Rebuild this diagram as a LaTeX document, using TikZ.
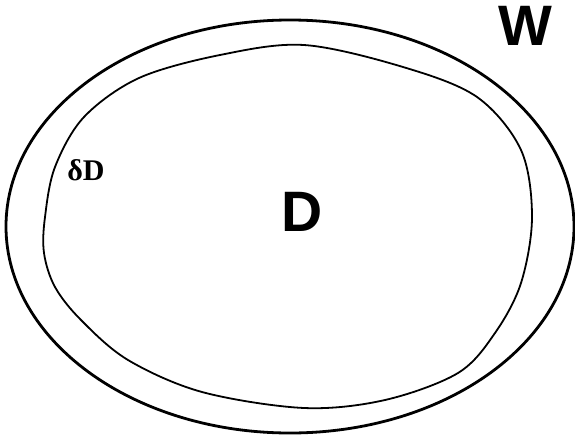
\documentclass[tikz,border=0pt]{standalone}
\usepackage{fontspec}
\setmainfont{Liberation Serif}
\newfontfamily\labelsans{Liberation Sans}
\usetikzlibrary{positioning}

\begin{document}
\begin{tikzpicture}[x=1pt, y=-1pt,
    region/.style={line width=2.8pt},
    domainline/.style={line width=1.8pt},
    biglabel/.style={font=\labelsans\bfseries\fontsize{57}{60}\selectfont, inner sep=0pt}]
  \useasboundingbox (0,0) rectangle (575,439);
  % outer world W
  \draw[region] (290,226.5) ellipse[x radius=284, y radius=206.5];
  % inner domain D with boundary
  \draw[domainline] plot[smooth cycle, tension=0.55] coordinates {
    (304,45) (403,67) (477,97) (521,150) (532,217) (521,283) (495,333)
    (458,373) (385,400) (304,408) (202,392) (128,360) (81,320) (55,287)
    (44,253) (45,217) (55,167) (84,117) (139,78) (220,55)};
  \node[biglabel] (world) at (525,26) {W};
  \node[biglabel] (domain) at (302,212) {D};
  \node[font=\bfseries\fontsize{30}{32}\selectfont, inner sep=0pt] (boundary) at (86,170) {δD};
\end{tikzpicture}
\end{document}
